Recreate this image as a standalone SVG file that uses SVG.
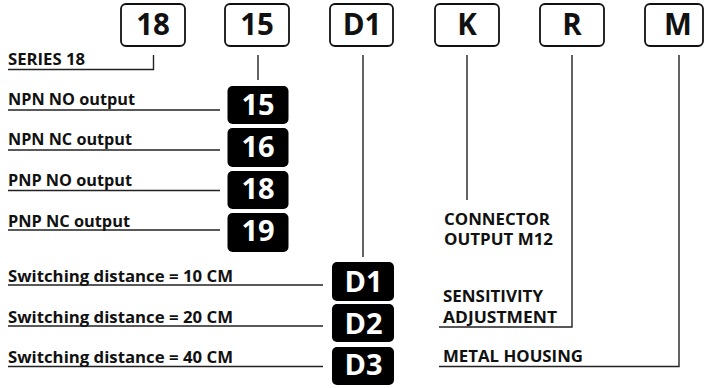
<svg xmlns="http://www.w3.org/2000/svg" width="705" height="388" viewBox="0 0 705 388">
<style>
.box{fill:#fff;stroke:#111;stroke-width:1.8}
.blk{fill:#000}
.bt{font-family:"Open Sans","DejaVu Sans",sans-serif;font-weight:700;font-size:29.5px;fill:#111;text-anchor:middle}
.wt{font-family:"Open Sans","DejaVu Sans",sans-serif;font-weight:700;font-size:29px;fill:#fff;text-anchor:middle}
.lb{font-family:"Open Sans","DejaVu Sans",sans-serif;font-weight:700;font-size:16px;fill:#111}
.ln{fill:none;stroke:#222;stroke-width:1.4}
</style>
<g id="connectors">
<polyline class="ln" points="8,69.5 153.5,69.5 153.5,55"/>
<line class="ln" x1="258" y1="55" x2="258" y2="80"/>
<line class="ln" x1="363" y1="55" x2="363" y2="257"/>
<line class="ln" x1="467" y1="55" x2="467" y2="200"/>
<polyline class="ln" points="572,55 572,327 439,327"/>
<polyline class="ln" points="679,55 679,366.5 439,366.5"/>
<line class="ln" x1="8" y1="110" x2="220" y2="110"/>
<line class="ln" x1="8" y1="150" x2="220" y2="150"/>
<line class="ln" x1="8" y1="190.5" x2="220" y2="190.5"/>
<line class="ln" x1="8" y1="230" x2="220" y2="230"/>
<line class="ln" x1="8" y1="285" x2="323" y2="285"/>
<line class="ln" x1="8" y1="326" x2="323" y2="326"/>
<line class="ln" x1="8" y1="366.5" x2="323" y2="366.5"/>
</g>
<g id="top-18"><rect class="box" x="121" y="4" width="64" height="42" rx="5"/><text class="bt" x="153" y="34.5">18</text></g>
<g id="top-15"><rect class="box" x="225" y="4" width="64" height="42" rx="5"/><text class="bt" x="257" y="34.5">15</text></g>
<g id="top-D1"><rect class="box" x="330" y="4" width="63" height="42" rx="5"/><text class="bt" x="362" y="34.5">D1</text></g>
<g id="top-K"><rect class="box" x="435" y="4" width="64" height="42" rx="5"/><text class="bt" x="467" y="34.5">K</text></g>
<g id="top-R"><rect class="box" x="540" y="4" width="64" height="42" rx="5"/><text class="bt" x="572" y="34.5">R</text></g>
<g id="top-M"><rect class="box" x="645" y="4" width="58" height="42" rx="5"/><text class="bt" x="678" y="34.5">M</text></g>
<g id="series"><text class="lb" x="8" y="65" textLength="77" lengthAdjust="spacingAndGlyphs">SERIES 18</text></g>
<g id="npn-no"><text class="lb" x="8" y="105" textLength="127" lengthAdjust="spacingAndGlyphs">NPN NO output</text></g>
<g id="npn-nc"><text class="lb" x="8" y="145" textLength="124" lengthAdjust="spacingAndGlyphs">NPN NC output</text></g>
<g id="pnp-no"><text class="lb" x="8" y="185.5" textLength="124" lengthAdjust="spacingAndGlyphs">PNP NO output</text></g>
<g id="pnp-nc"><text class="lb" x="8" y="226.5" textLength="122" lengthAdjust="spacingAndGlyphs">PNP NC output</text></g>
<g id="b15"><rect class="blk" x="227.5" y="86" width="61" height="38" rx="5"/><text class="wt" x="258" y="115">15</text></g>
<g id="b16"><rect class="blk" x="227.5" y="128" width="61" height="39" rx="5"/><text class="wt" x="258" y="157">16</text></g>
<g id="b18"><rect class="blk" x="227.5" y="171" width="61" height="38" rx="5"/><text class="wt" x="258" y="199">18</text></g>
<g id="b19"><rect class="blk" x="227.5" y="213" width="61" height="39" rx="5"/><text class="wt" x="258" y="241">19</text></g>
<g id="sd10"><text class="lb" x="8" y="282" textLength="225" lengthAdjust="spacingAndGlyphs">Switching distance = 10 CM</text></g>
<g id="sd20"><text class="lb" x="8" y="323" textLength="225" lengthAdjust="spacingAndGlyphs">Switching distance = 20 CM</text></g>
<g id="sd40"><text class="lb" x="8" y="363" textLength="225" lengthAdjust="spacingAndGlyphs">Switching distance = 40 CM</text></g>
<g id="bD1"><rect class="blk" x="332" y="262" width="62" height="39" rx="5"/><text class="wt" x="363.5" y="292">D1</text></g>
<g id="bD2"><rect class="blk" x="332" y="304" width="62" height="38" rx="5"/><text class="wt" x="363.5" y="334">D2</text></g>
<g id="bD3"><rect class="blk" x="332" y="347" width="62" height="38" rx="5"/><text class="wt" x="363.5" y="375">D3</text></g>
<g id="connector"><text class="lb" x="444" y="225" textLength="106" lengthAdjust="spacingAndGlyphs">CONNECTOR</text><text class="lb" x="444" y="245" textLength="109" lengthAdjust="spacingAndGlyphs">OUTPUT M12</text></g>
<g id="sensitivity"><text class="lb" x="443" y="302" textLength="100" lengthAdjust="spacingAndGlyphs">SENSITIVITY</text><text class="lb" x="443" y="323" textLength="114" lengthAdjust="spacingAndGlyphs">ADJUSTMENT</text></g>
<g id="housing"><text class="lb" x="443" y="362" textLength="140" lengthAdjust="spacingAndGlyphs">METAL HOUSING</text></g>
</svg>
